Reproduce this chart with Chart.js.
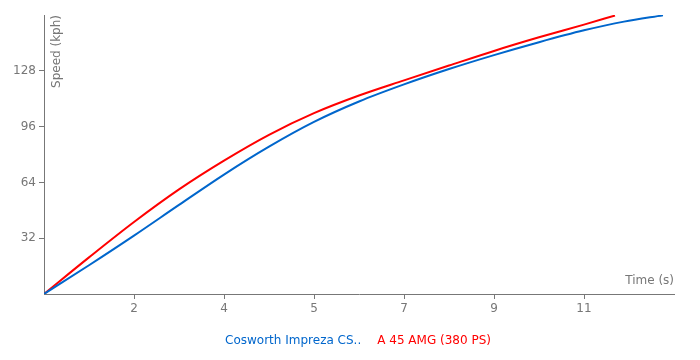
<!DOCTYPE html>
<html>
<head>
<meta charset="utf-8">
<script src="https://cdn.jsdelivr.net/npm/chart.js@4"></script>
<style>
  html, body { margin: 0; padding: 0; background: #fff; }
  #wrap { width: 700px; height: 360px; }
</style>
</head>
<body>
<div id="wrap"><canvas id="speedChart" width="700" height="360"></canvas></div>
<script>
// time (s) / speed (kph)
const blueTime  = [0, 0.9, 1.8, 2.7, 3.6, 4.5, 5.4, 6.3, 7.2, 8.1, 9, 9.9, 10.8, 11.6, 12.38];
const blueSpeed = [0, 16.5, 33.5, 51.1, 68.5, 84.5, 98.7, 110.4, 120.2, 129, 137, 144.4, 151.2, 156.2, 159.8];
const redTime   = [0, 0.9, 1.8, 2.7, 3.6, 4.5, 5.4, 6.3, 7.2, 8.1, 9, 9.9, 10.8, 11.42];
const redSpeed  = [0, 21, 41.3, 60, 76.5, 91.3, 103.7, 113.8, 122.5, 131, 139.4, 147.2, 154.5, 159.7];
const seriesNames = ['Cosworth Impreza CS..', 'A 45 AMG (380 PS)'];
const seriesColors = ['#0066cc', '#ff0000'];
const xTicks = [1.8, 3.6, 5.4, 7.2, 9, 10.8];
const yTicks = [32, 64, 96, 128];

const toPoints = (xs, ys) => xs.map((x, i) => ({ x: x, y: ys[i] }));
const grey = '#777';
const tickFont = { family: 'DejaVu Sans', size: 12 };

const axisTitles = {
    id: 'axisTitles',
    afterLayout(chart) {
        // centre the legend under the plot area, not the whole canvas
        if (chart.legend) {
            chart.legend.left = chart.chartArea.left - 4;
            chart.legend.right = chart.chartArea.right - 4;
        }
    },
    afterDraw(chart) {
        const { ctx, chartArea } = chart;
        ctx.save();
        ctx.fillStyle = grey;
        ctx.font = '12px "DejaVu Sans"';
        ctx.textAlign = 'right';
        ctx.textBaseline = 'middle';
        ctx.fillText('Time (s)', chartArea.right, chartArea.bottom - 13);
        ctx.translate(chartArea.left + 13, chartArea.top);
        ctx.rotate(-Math.PI / 2);
        ctx.fillText('Speed (kph)', 0, 0);
        ctx.restore();
    }
};

new Chart(document.getElementById('speedChart'), {
    type: 'line',
    data: {
        datasets: [
            { label: seriesNames[0], data: toPoints(blueTime, blueSpeed), borderColor: seriesColors[0], borderWidth: 2, pointRadius: 0, cubicInterpolationMode: 'monotone' },
            { label: seriesNames[1], data: toPoints(redTime, redSpeed), borderColor: seriesColors[1], borderWidth: 2, pointRadius: 0, cubicInterpolationMode: 'monotone' }
        ]
    },
    options: {
        responsive: false,
        animation: false,
        layout: { padding: { top: 15, right: 26, bottom: 3, left: 0 } },
        plugins: {
            tooltip: { enabled: false },
            legend: {
                position: 'bottom',
                labels: {
                    boxWidth: 0,
                    boxHeight: 0,
                    padding: 10,
                    font: tickFont,
                    generateLabels: chart => chart.data.datasets.map((ds, i) => ({
                        text: ds.label,
                        fontColor: seriesColors[i],
                        fillStyle: 'transparent',
                        strokeStyle: 'transparent',
                        lineWidth: 0,
                        datasetIndex: i
                    }))
                }
            }
        },
        scales: {
            x: {
                type: 'linear', min: 0, max: 12.6,
                afterBuildTicks: s => { s.ticks = xTicks.map(v => ({ value: v })); },
                afterFit: s => { s.height = 31; },
                ticks: { color: grey, font: tickFont, padding: 3, maxRotation: 0, callback: v => Math.round(v) },
                grid: { drawOnChartArea: false, drawTicks: true, tickLength: 5, color: grey },
                border: { color: grey }
            },
            y: {
                type: 'linear', min: 0, max: 160,
                afterBuildTicks: s => { s.ticks = yTicks.map(v => ({ value: v })); },
                afterFit: s => { s.width = 44; },
                ticks: { color: grey, font: tickFont, padding: 3 },
                grid: { drawOnChartArea: false, drawTicks: true, tickLength: 5, color: grey },
                border: { color: grey }
            }
        }
    },
    plugins: [axisTitles]
});
</script>
</body>
</html>
